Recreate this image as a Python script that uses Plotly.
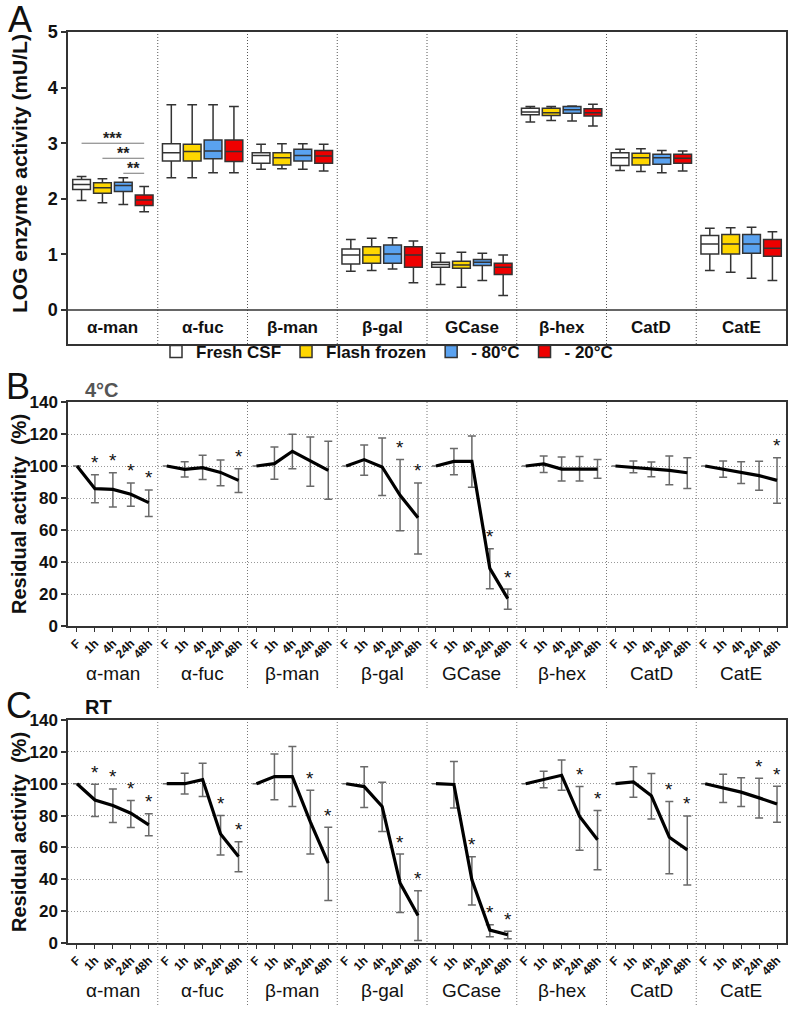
import plotly.graph_objects as go

W, H = 793, 1009
FONT = "Liberation Sans, Arial, sans-serif"

# ---------------- Panel A data (LOG enzyme activity) ----------------
enzymes = ["α-man", "α-fuc", "β-man", "β-gal", "GCase", "β-hex", "CatD", "CatE"]
conditions = ["Fresh CSF", "Flash frozen", "- 80°C", "- 20°C"]
cond_colors = ["#FFFFFF", "#FFD700", "#5AA2F0", "#EE0000"]

fresh_low = [1.97, 2.38, 2.53, 0.70, 0.46, 3.38, 2.51, 0.71]
fresh_q1 = [2.17, 2.68, 2.64, 0.83, 0.77, 3.51, 2.60, 1.01]
fresh_med = [2.26, 2.83, 2.78, 0.99, 0.82, 3.56, 2.74, 1.19]
fresh_q3 = [2.35, 2.99, 2.83, 1.10, 0.86, 3.63, 2.83, 1.34]
fresh_high = [2.40, 3.69, 2.98, 1.27, 1.02, 3.66, 2.89, 1.47]

flash_low = [1.93, 2.38, 2.54, 0.71, 0.41, 3.41, 2.49, 0.68]
flash_q1 = [2.10, 2.68, 2.61, 0.84, 0.75, 3.50, 2.61, 1.01]
flash_med = [2.20, 2.85, 2.74, 0.99, 0.81, 3.55, 2.74, 1.19]
flash_q3 = [2.29, 2.98, 2.83, 1.14, 0.88, 3.63, 2.82, 1.36]
flash_high = [2.36, 3.69, 2.99, 1.29, 1.04, 3.66, 2.90, 1.48]

m80_low = [1.90, 2.47, 2.53, 0.74, 0.53, 3.40, 2.47, 0.57]
m80_q1 = [2.13, 2.72, 2.68, 0.84, 0.80, 3.54, 2.62, 1.02]
m80_med = [2.24, 2.86, 2.78, 1.01, 0.86, 3.60, 2.74, 1.19]
m80_q3 = [2.30, 3.06, 2.89, 1.17, 0.91, 3.66, 2.80, 1.36]
m80_high = [2.38, 3.69, 2.99, 1.30, 1.02, 3.67, 2.87, 1.49]

m20_low = [1.77, 2.47, 2.50, 0.49, 0.26, 3.31, 2.50, 0.53]
m20_q1 = [1.88, 2.67, 2.64, 0.77, 0.64, 3.49, 2.64, 0.97]
m20_med = [1.98, 2.85, 2.77, 0.99, 0.77, 3.55, 2.73, 1.11]
m20_q3 = [2.07, 3.06, 2.87, 1.14, 0.84, 3.62, 2.80, 1.27]
m20_high = [2.22, 3.66, 2.98, 1.24, 0.99, 3.70, 2.86, 1.41]

# significance brackets in alpha-man: (from condition, to condition, label, level)
sig_from = [0, 1, 2]
sig_to = [3, 3, 3]
sig_text = ["***", "**", "**"]
sig_level = [3.0, 2.73, 2.46]

# ---------------- Panel B/C data (residual activity %) ----------------
timepoints = ["F", "1h", "4h", "24h", "48h"]

b_mean = [
    [100, 85.8, 85.4, 82.3, 77.1],
    [100, 97.9, 99.0, 96.0, 91.0],
    [100, 101.5, 109.2, 103.5, 97.3],
    [100, 104.0, 99.4, 81.7, 67.7],
    [100, 102.9, 102.9, 36.0, 17.1],
    [100, 101.3, 98.1, 98.1, 98.1],
    [100, 99.2, 97.9, 97.3, 95.8],
    [100, 98.1, 96.0, 94.0, 91.0]]
b_upper = [
    [None, 94.6, 95.8, 89.4, 85.0],
    [None, 102.7, 106.7, 103.8, 98.3],
    [None, 111.9, 119.8, 118.1, 115.4],
    [None, 113.1, 117.5, 104.0, 89.4],
    [None, 111.0, 118.8, 48.3, 23.1],
    [None, 106.3, 105.6, 106.0, 104.0],
    [None, 103.1, 102.5, 106.3, 105.2],
    [None, 103.1, 102.7, 102.9, 105.2]]
b_lower = [
    [None, 77.1, 74.4, 74.8, 68.5],
    [None, 93.1, 91.5, 87.7, 83.5],
    [None, 91.7, 98.3, 87.3, 79.2],
    [None, 94.2, 81.5, 59.6, 45.0],
    [None, 94.6, 86.7, 23.3, 10.4],
    [None, 96.0, 90.6, 90.6, 92.3],
    [None, 95.8, 93.3, 88.3, 86.0],
    [None, 92.9, 89.0, 84.8, 76.7]]
b_sig = [
    [0, 1, 1, 1, 1],
    [0, 0, 0, 0, 1],
    [0, 0, 0, 0, 0],
    [0, 0, 0, 1, 1],
    [0, 0, 0, 1, 1],
    [0, 0, 0, 0, 0],
    [0, 0, 0, 0, 0],
    [0, 0, 0, 0, 1]]

c_mean = [
    [100, 89.8, 86.3, 81.5, 74.2],
    [100, 100.0, 102.6, 68.5, 54.3],
    [100, 104.5, 104.5, 76.0, 50.1],
    [100, 98.2, 85.7, 37.6, 17.3],
    [100, 99.5, 39.7, 8.1, 5.2],
    [100, 102.4, 105.3, 79.4, 64.8],
    [100, 101.1, 92.4, 66.4, 58.5],
    [100, 97.2, 94.7, 91.1, 87.3]]
c_upper = [
    [None, 99.7, 96.7, 89.4, 81.1],
    [None, 106.6, 112.8, 80.0, 63.5],
    [None, 118.7, 123.3, 95.9, 72.7],
    [None, 110.7, 100.9, 55.8, 32.8],
    [None, 113.9, 54.1, 11.5, 7.3],
    [None, 107.8, 114.9, 98.2, 83.2],
    [None, 110.7, 106.4, 88.8, 79.8],
    [None, 105.9, 103.8, 103.4, 98.4]]
c_lower = [
    [None, 79.4, 75.6, 72.5, 67.3],
    [None, 93.6, 91.9, 55.2, 44.7],
    [None, 90.0, 85.7, 55.8, 26.7],
    [None, 85.0, 70.0, 19.2, 1.5],
    [None, 84.8, 23.8, 4.0, 2.7],
    [None, 97.4, 95.9, 58.3, 46.0],
    [None, 91.5, 77.9, 43.5, 36.4],
    [None, 88.2, 85.7, 78.4, 75.8]]
c_sig = [
    [0, 1, 1, 1, 1],
    [0, 0, 0, 1, 1],
    [0, 0, 0, 1, 1],
    [0, 0, 0, 1, 1],
    [0, 0, 1, 1, 1],
    [0, 0, 0, 1, 1],
    [0, 0, 0, 1, 1],
    [0, 0, 0, 1, 1]]


def px(p):
    return p / W


def py(p):
    return 1 - p / H


fig = go.Figure()

# ---------------- Panel A boxes ----------------
box_stats = [
    (fresh_low, fresh_q1, fresh_med, fresh_q3, fresh_high),
    (flash_low, flash_q1, flash_med, flash_q3, flash_high),
    (m80_low, m80_q1, m80_med, m80_q3, m80_high),
    (m20_low, m20_q1, m20_med, m20_q3, m20_high),
]
for name, color, (lo, q1, med, q3, hi) in zip(conditions, cond_colors, box_stats):
    fig.add_trace(go.Box(
        name=name, x=enzymes, lowerfence=lo, q1=q1, median=med, q3=q3, upperfence=hi,
        fillcolor=color, line=dict(color="#333333", width=1.5), whiskerwidth=0.55,
        xaxis="x", yaxis="y", showlegend=True, hoverinfo="skip"))

BOXGAP = 0.07
BOXGROUPGAP = 0.15
A_YMIN = -0.61
DOT = "1px,2px"

shapes = []
annotations = []

# category separators + zero line for A
for i in range(len(enzymes) - 1):
    shapes.append(dict(type="line", xref="x", yref="y", x0=i + 0.5, x1=i + 0.5,
                       y0=A_YMIN, y1=5, line=dict(color="#555555", width=1, dash=DOT)))
shapes.append(dict(type="line", xref="x domain", yref="y", x0=0, x1=1, y0=0, y1=0,
                   line=dict(color="#333333", width=1.5)))
for i, e in enumerate(enzymes):
    annotations.append(dict(xref="x", yref="y", x=i, y=A_YMIN / 2, text=e, showarrow=False,
                            xanchor="center", yanchor="middle",
                            font=dict(size=17, family=FONT, weight="bold", color="#111")))

# significance brackets
slot = (1 - BOXGAP) / len(conditions)


def cond_offset(k):
    return -(1 - BOXGAP) / 2 + slot * (k + 0.5)


for f, t, txt, lev in zip(sig_from, sig_to, sig_text, sig_level):
    x0 = cond_offset(f)
    x1 = cond_offset(t)
    shapes.append(dict(type="line", xref="x", yref="y", x0=x0, x1=x1, y0=lev, y1=lev,
                       line=dict(color="#777777", width=1)))
    annotations.append(dict(xref="x", yref="y", x=(x0 + x1) / 2, y=lev, text=txt,
                            showarrow=False, xanchor="center", yanchor="bottom", yshift=-5,
                            borderpad=0,
                            font=dict(size=16, family=FONT, weight="bold", color="#222")))


# ---------------- Panels B and C ----------------
def add_panel(mean, upper, lower, sig, xa, ya, label_py, div_bottom_py, top_py):
    xs, ys, ep, em = [], [], [], []
    for g in range(len(enzymes)):
        for j in range(len(timepoints)):
            x = g * len(timepoints) + j + 0.5
            m = mean[g][j]
            xs.append(x)
            ys.append(m)
            ep.append(None if upper[g][j] is None else upper[g][j] - m)
            em.append(None if lower[g][j] is None else m - lower[g][j])
            if sig[g][j]:
                annotations.append(dict(xref=xa, yref=ya, x=x, y=upper[g][j], text="*",
                                        showarrow=False, xanchor="center", yanchor="middle",
                                        yshift=12,
                                        font=dict(size=19, family=FONT, color="#111")))
        xs.append(None)
        ys.append(None)
        ep.append(None)
        em.append(None)
    fig.add_trace(go.Scatter(
        x=xs, y=ys, mode="lines", line=dict(color="black", width=3.2),
        error_y=dict(type="data", symmetric=False, array=ep, arrayminus=em,
                     color="#6a6a6a", thickness=1.5, width=4),
        xaxis=xa, yaxis=ya, showlegend=False, hoverinfo="skip", connectgaps=False))
    n = len(timepoints)
    for i in range(1, len(enzymes)):
        shapes.append(dict(type="line", xref=xa, yref="paper", x0=i * n, x1=i * n,
                           y0=py(div_bottom_py), y1=py(top_py),
                           line=dict(color="#777777", width=1, dash=DOT)))
    for g, e in enumerate(enzymes):
        annotations.append(dict(xref=xa, yref="paper", x=g * n + n / 2, y=py(label_py), text=e,
                                showarrow=False, xanchor="center", yanchor="middle",
                                font=dict(size=19, family=FONT, color="#111")))


add_panel(b_mean, b_upper, b_lower, b_sig, "x2", "y2", 673, 688, 402)
add_panel(c_mean, c_upper, c_lower, c_sig, "x3", "y3", 990, 1005, 720)


def paper_text(x, y, text, size, bold=False, color="#111", angle=0, xanchor="center"):
    f = dict(size=size, family=FONT, color=color)
    if bold:
        f["weight"] = "bold"
    return dict(xref="paper", yref="paper", x=px(x), y=py(y), text=text, showarrow=False,
                xanchor=xanchor, yanchor="middle", textangle=angle, font=f)


annotations += [
    paper_text(20, 20, "A", 36),
    paper_text(18, 386, "B", 36),
    paper_text(19, 705, "C", 36),
    paper_text(19, 174, "LOG enzyme activity (mU/L)", 21, bold=True, angle=-90),
    paper_text(19, 514, "Residual activity \u00a0(%)", 20, bold=True, angle=-90),
    paper_text(19, 832, "Residual activity \u00a0(%)", 20, bold=True, angle=-90),
    paper_text(83, 390, "4°C", 20, bold=True, color="#555555", xanchor="left"),
    paper_text(83, 707, "RT", 20, bold=True, xanchor="left"),
]

axis_line = dict(showline=True, linecolor="#333333", linewidth=1.5, mirror=True,
                 automargin=False)
tick_font = dict(size=17, family=FONT, weight="bold", color="#111")
n = len(timepoints)
tick_pos = [g * n + j + 0.5 for g in range(len(enzymes)) for j in range(n)]
tick_txt = [t for g in range(len(enzymes)) for t in timepoints]

xdom = [px(68), px(786)]
fig.update_layout(
    template="none",
    width=W, height=H, margin=dict(l=0, r=0, t=0, b=0, pad=0), autosize=False,
    paper_bgcolor="white", plot_bgcolor="white",
    font=dict(family=FONT, color="#111"),
    boxmode="group", boxgap=BOXGAP, boxgroupgap=BOXGROUPGAP,
    xaxis=dict(domain=xdom, anchor="y", type="category", range=[-0.5, 7.5],
               showticklabels=False, ticks="", showgrid=False, zeroline=False, **axis_line),
    yaxis=dict(domain=[py(344), py(32)], anchor="x", range=[A_YMIN, 5],
               tickvals=[0, 1, 2, 3, 4, 5], ticks="outside", ticklen=5, tickwidth=1.5,
               tickcolor="#333", tickfont=dict(size=18, family=FONT, weight="bold", color="#111"),
               showgrid=False, zeroline=False, **axis_line),
    xaxis2=dict(domain=xdom, anchor="y2", range=[0, 40], tickvals=tick_pos, ticktext=tick_txt,
                tickangle=-45, ticks="outside", ticklen=4, tickwidth=1.2, tickcolor="#333",
                tickfont=dict(size=12, family=FONT, weight="bold", color="#111"),
                showgrid=False, zeroline=False, **axis_line),
    yaxis2=dict(domain=[py(626), py(402)], anchor="x2", range=[0, 140],
                tickvals=list(range(0, 141, 20)), ticks="outside", ticklen=5, tickwidth=1.5,
                tickcolor="#333", tickfont=tick_font, showgrid=True, gridcolor="#999999",
                griddash=DOT, gridwidth=1, zeroline=False, **axis_line),
    xaxis3=dict(domain=xdom, anchor="y3", range=[0, 40], tickvals=tick_pos, ticktext=tick_txt,
                tickangle=-45, ticks="outside", ticklen=4, tickwidth=1.2, tickcolor="#333",
                tickfont=dict(size=12, family=FONT, weight="bold", color="#111"),
                showgrid=False, zeroline=False, **axis_line),
    yaxis3=dict(domain=[py(943), py(720)], anchor="x3", range=[0, 140],
                tickvals=list(range(0, 141, 20)), ticks="outside", ticklen=5, tickwidth=1.5,
                tickcolor="#333", tickfont=tick_font, showgrid=True, gridcolor="#999999",
                griddash=DOT, gridwidth=1, zeroline=False, **axis_line),
    legend=dict(orientation="h", x=px(387), xanchor="center", y=py(352), yanchor="middle",
                font=dict(size=17, family=FONT, weight="bold", color="#111"),
                bgcolor="rgba(0,0,0,0)", itemwidth=30, traceorder="normal"),
    shapes=shapes, annotations=annotations,
)

fig.write_html("out.html", config={"displayModeBar": False},
               post_script="document.body.style.margin='0px';document.body.style.overflow='hidden';")
